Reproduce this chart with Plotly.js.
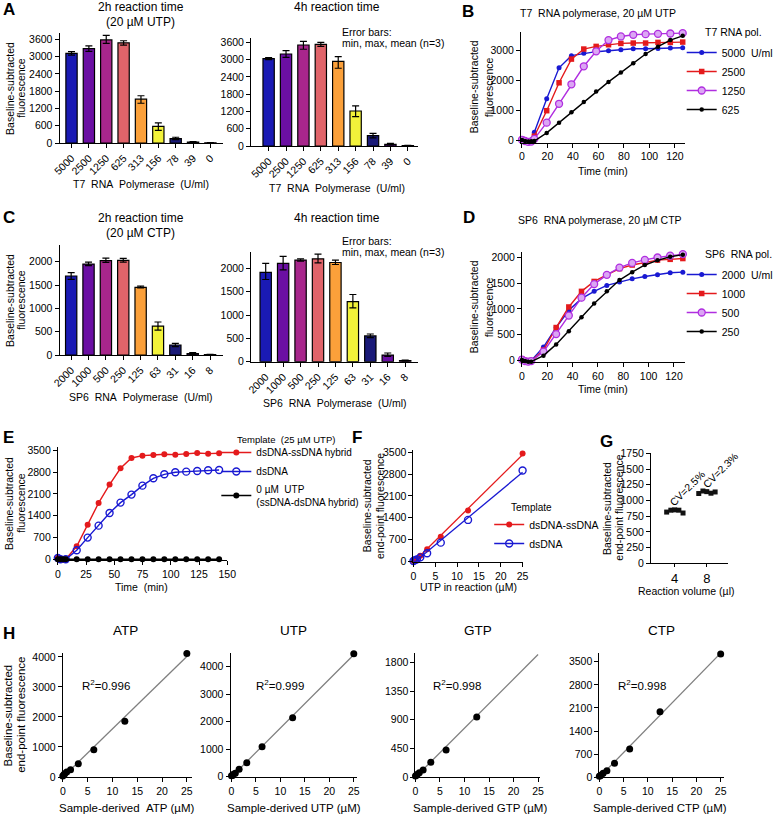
<!DOCTYPE html>
<html><head><meta charset="utf-8">
<script src="https://cdn.plot.ly/plotly-3.0.1.min.js"></script>
<style>html,body{margin:0;padding:0;background:#fff}#plot{width:778px;height:816px}</style>
</head><body><div id="plot"></div>
<script>
// ---------------- DATA ----------------
// Panel A (T7, 20 µM UTP)
const t7Units = ['5000','2500','1250','625','313','156','78','39','0'];
const t7_2h_mean = [3110, 3275, 3580, 3480, 1520, 580, 150, 35, 5];
const t7_2h_min  = [3050, 3180, 3460, 3400, 1380, 440, 115, 20, 0];
const t7_2h_max  = [3170, 3370, 3740, 3550, 1640, 700, 200, 50, 10];
const t7_4h_mean = [3032, 3194, 3507, 3530, 2940, 1215, 360, 58, 10];
const t7_4h_min  = [3000, 3080, 3360, 3460, 2700, 1020, 280, 35, 0];
const t7_4h_max  = [3070, 3310, 3630, 3600, 3100, 1390, 440, 90, 20];
// Panel C (SP6, 20 µM CTP)
const sp6Units = ['2000','1000','500','250','125','63','31','16','8'];
const sp6_2h_mean = [1693, 1950, 2025, 2030, 1450, 621, 214, 30, 8];
const sp6_2h_min  = [1621, 1914, 1985, 1990, 1436, 535, 180, 15, 3];
const sp6_2h_max  = [1764, 1993, 2075, 2070, 1478, 707, 250, 50, 12];
const sp6_4h_mean = [1913, 2106, 2178, 2206, 2127, 1289, 552, 143, 21];
const sp6_4h_min  = [1762, 1970, 2156, 2120, 2084, 1153, 516, 115, 14];
const sp6_4h_max  = [2106, 2256, 2206, 2306, 2178, 1440, 594, 186, 36];
// Panel B (kinetics, T7)
const bTime = [0, 2.4, 4.9, 7.3, 9.7, 19.4, 29.1, 38.8, 48.5, 58.2, 67.9, 77.6, 87.3, 97.0, 106.7, 116.4, 126.1];
const bT7_5000 = [50, 20, -10, 30, 280, 1400, 2430, 2835, 2912, 2967, 3000, 3033, 3066, 3066, 3077, 3088, 3099];
const bT7_2500 = [40, 0, -30, -20, 150, 1000, 1930, 2720, 3055, 3143, 3198, 3243, 3254, 3254, 3276, 3276, 3287];
const bT7_1250 = [30, -10, -40, -30, 60, 600, 1230, 1880, 2480, 2980, 3353, 3474, 3530, 3551, 3562, 3573, 3584];
const bT7_625  = [20, -10, -30, -20, -10, 260, 600, 950, 1290, 1640, 1960, 2270, 2580, 2890, 3132, 3353, 3496];
const bLegend = ['5000\u00a0\u00a0U/ml', '2500', '1250', '625'];
// Panel D (kinetics, SP6)
const dTime = [0, 2.4, 4.9, 7.3, 17, 27, 37, 47, 57, 67, 77, 87, 97, 107, 117, 127];
const dSP6_2000 = [40, 10, -10, 0, 263, 641, 974, 1199, 1340, 1455, 1519, 1583, 1628, 1660, 1699, 1712];
const dSP6_1000 = [30, 0, -20, -10, 205, 640, 1038, 1340, 1532, 1660, 1780, 1850, 1900, 1945, 1960, 1975];
const dSP6_500  = [20, -10, -20, -10, 173, 513, 872, 1218, 1481, 1660, 1800, 1890, 1950, 1995, 2030, 2060];
const dSP6_250  = [10, -10, -20, -20, 96, 314, 570, 840, 1103, 1340, 1558, 1712, 1850, 1940, 2010, 2050];
const dLegend = ['2000\u00a0\u00a0U/ml', '1000', '500', '250'];
// Panel E (templates)
const eTime = [0, 2.3, 4.6, 7.0, 16.7, 26.4, 36.1, 45.8, 55.5, 65.2, 74.9, 84.6, 94.3, 104, 113.7, 123.4, 133.1, 142.8];
const eHybrid = [50, 10, -20, 0, 417, 1113, 1809, 2398, 2922, 3254, 3329, 3350, 3372, 3361, 3382, 3414, 3393, 3404];
const eDsDNA  = [40, 0, -30, 0, 289, 696, 1081, 1488, 1820, 2077, 2365, 2601, 2729, 2793, 2815, 2836, 2858, 2868];
const eNoUTP  = [0, 0, 0, 0, 0, 0, 0, 0, 0, 0, 0, 0, 0, 0, 0, 0, 0, 0];
// Panel F (end-point vs UTP)
const fUTP = [0, 0.39, 0.78, 1.56, 3.125, 6.25, 12.5, 25];
const fHybrid = [0, 43, 75, 172, 377, 786, 1626, 3470];
const fDsDNA  = [0, 30, 54, 118, 248, 592, 1325, 2920];
// Panel G (reaction volume)
const gVolumes = ['4', '8'];
const gVol4 = [815, 845, 850, 845, 800];
const gVol8 = [1110, 1150, 1140, 1115, 1135];
const gCV = ['CV=2.5%', 'CV=2.3%'];
// Panel H (standard curves)
const hConc = [0, 0.195, 0.39, 0.78, 1.56, 3.125, 6.25, 12.5, 25];
const hATP = [33, 78, 111, 167, 244, 444, 911, 1856, 4111];
const hUTP = [36, 48, 85, 121, 267, 509, 1091, 2145, 4474];
const hGTP = [21, 31, 47, 73, 115, 235, 429, 942, 1946];
const hCTP = [30, 50, 71, 121, 202, 424, 857, 1987, 3732];
const hR2 = ['0.996', '0.999', '0.998', '0.998'];
const hNames = ['ATP', 'UTP', 'GTP', 'CTP'];

// ---------------- STYLE ----------------
const W = 778, H = 816;
const FONT = 'Liberation Sans, Arial, sans-serif';
const BAR_COLORS = ['#1a1ab4','#6b0fa3','#a8268c','#e0646a','#fba03a','#f2f23a','#1a1a78','#6b0fa3','#a8268c'];
const BLUE = '#1919d2', RED = '#e41a1c', MAG = '#b02ee0', BLK = '#000';
const JITTER = [-0.25, -0.12, 0, 0.13, 0.26];

const traces = [];
function barTrace(cats, mean, mn, mx, n) {
  traces.push({type:'bar', x:cats, y:mean, xaxis:'x'+n, yaxis:'y'+n, width:0.65,
    marker:{color:BAR_COLORS, line:{color:'#000', width:1.2}},
    error_y:{type:'data', symmetric:false, array:mx.map((v,i)=>v-mean[i]), arrayminus:mean.map((v,i)=>v-mn[i]),
      color:'#000', thickness:1.2, width:3.5},
    showlegend:false, hoverinfo:'skip'});
}
barTrace(t7Units, t7_2h_mean, t7_2h_min, t7_2h_max, '');
barTrace(t7Units, t7_4h_mean, t7_4h_min, t7_4h_max, 2);
barTrace(sp6Units, sp6_2h_mean, sp6_2h_min, sp6_2h_max, 4);
barTrace(sp6Units, sp6_4h_mean, sp6_4h_min, sp6_4h_max, 5);

function lineTrace(x, y, n, color, marker, name, legend) {
  traces.push({type:'scatter', mode:'lines+markers', x:x, y:y, xaxis:'x'+n, yaxis:'y'+n,
    line:{color:color, width:1.4}, marker:marker, name:name, legend:legend,
    showlegend:!!name, cliponaxis:false, hoverinfo:'skip'});
}
const mkBlue = {symbol:'circle', size:5, color:BLUE};
const mkRedSq = {symbol:'square', size:5.5, color:RED};
const mkMag = {symbol:'circle', size:7, color:'#dba6f4', line:{color:MAG, width:1.3}};
const mkBlk = {symbol:'circle', size:4.5, color:BLK};
lineTrace(bTime, bT7_5000, 3, BLUE, mkBlue, bLegend[0], 'legend');
lineTrace(bTime, bT7_2500, 3, RED, mkRedSq, bLegend[1], 'legend');
lineTrace(bTime, bT7_1250, 3, MAG, mkMag, bLegend[2], 'legend');
lineTrace(bTime, bT7_625, 3, BLK, mkBlk, bLegend[3], 'legend');
lineTrace(dTime, dSP6_2000, 6, BLUE, mkBlue, dLegend[0], 'legend2');
lineTrace(dTime, dSP6_1000, 6, RED, mkRedSq, dLegend[1], 'legend2');
lineTrace(dTime, dSP6_500, 6, MAG, mkMag, dLegend[2], 'legend2');
lineTrace(dTime, dSP6_250, 6, BLK, mkBlk, dLegend[3], 'legend2');
lineTrace(eTime, eHybrid, 7, RED, {symbol:'circle', size:6, color:RED}, 'dsDNA-ssDNA hybrid', 'legend3');
lineTrace(eTime, eDsDNA, 7, BLUE, {symbol:'circle-open', size:7, color:BLUE, line:{width:1.4}}, 'dsDNA', 'legend3');
lineTrace(eTime, eNoUTP, 7, BLK, {symbol:'circle', size:6, color:BLK}, '0 µM\u00a0\u00a0UTP<br>(ssDNA-dsDNA hybrid)', 'legend3');

function fit(x, y) {
  const n = x.length, mx = x.reduce((a,b)=>a+b,0)/n, my = y.reduce((a,b)=>a+b,0)/n;
  let sxy = 0, sxx = 0;
  for (let i=0;i<n;i++){ sxy += (x[i]-mx)*(y[i]-my); sxx += (x[i]-mx)*(x[i]-mx); }
  const a = sxy/sxx, b = my - a*mx;
  const xs = [Math.min(...x), Math.max(...x)];
  return {x: xs, y: xs.map(v=>a*v+b)};
}
function fitScatter(x, y, n, lineColor, marker, name, legend) {
  const f = fit(x, y);
  traces.push({type:'scatter', mode:'lines', x:f.x, y:f.y, xaxis:'x'+n, yaxis:'y'+n,
    line:{color:lineColor, width:1.3}, showlegend:false, hoverinfo:'skip', cliponaxis:false});
  traces.push({type:'scatter', mode:'markers', x:x, y:y, xaxis:'x'+n, yaxis:'y'+n,
    marker:marker, name:name, legend:legend, showlegend:!!name, cliponaxis:false, hoverinfo:'skip'});
}
fitScatter(fUTP, fHybrid, 8, RED, {symbol:'circle', size:6, color:RED}, null);
fitScatter(fUTP, fDsDNA, 8, BLUE, {symbol:'circle-open', size:7, color:BLUE, line:{width:1.4}}, null);
// legend-only entries for F (line + marker as in the reference)
traces.push({type:'scatter', mode:'lines+markers', x:[null], y:[null], xaxis:'x8', yaxis:'y8',
  line:{color:RED, width:1.4}, marker:{symbol:'circle', size:6, color:RED}, name:'dsDNA-ssDNA', legend:'legend4', hoverinfo:'skip'});
traces.push({type:'scatter', mode:'lines+markers', x:[null], y:[null], xaxis:'x8', yaxis:'y8',
  line:{color:BLUE, width:1.4}, marker:{symbol:'circle-open', size:7, color:BLUE, line:{width:1.4}}, name:'dsDNA', legend:'legend4', hoverinfo:'skip'});

// G
traces.push({type:'scatter', mode:'markers', x:JITTER.map(j=>0+j), y:gVol4, xaxis:'x9', yaxis:'y9',
  marker:{symbol:'square', size:5, color:'#111'}, showlegend:false, cliponaxis:false, hoverinfo:'skip'});
traces.push({type:'scatter', mode:'markers', x:JITTER.map(j=>1+j), y:gVol8, xaxis:'x9', yaxis:'y9',
  marker:{symbol:'square', size:5, color:'#111'}, showlegend:false, cliponaxis:false, hoverinfo:'skip'});

// H
[hATP, hUTP, hGTP, hCTP].forEach((ys, k) => {
  fitScatter(hConc, ys, 10+k, '#7f7f7f', {symbol:'circle', size:7, color:'#000'}, null);
});

// ---------------- LAYOUT ----------------
const base = {showline:true, linecolor:'#000', linewidth:1, ticks:'outside', ticklen:4, tickwidth:1, tickcolor:'#000',
  showgrid:false, zeroline:false, fixedrange:true, tickfont:{family:FONT, size:10.5, color:'#000'}};
const layout = {width:W, height:H, margin:{l:0,r:0,t:0,b:0}, paper_bgcolor:'#fff', plot_bgcolor:'rgba(0,0,0,0)',
  bargap:0, showlegend:true, font:{family:FONT, color:'#000'}, annotations:[]};
function setAxes(n, x0, x1, yTop, yBot, xo, yo) {
  const sx = n===1 ? '' : n;
  layout['xaxis'+sx] = Object.assign({}, base, {domain:[x0/W, x1/W], anchor:'y'+sx}, xo);
  layout['yaxis'+sx] = Object.assign({}, base, {domain:[1-yBot/H, 1-yTop/H], anchor:'x'+sx}, yo);
}
const catX = {type:'category', tickangle:-45};
setAxes(1, 60, 225, 33.3, 143, Object.assign({range:[-0.69, 8.74]}, catX), {range:[0, 3809], dtick:600});
setAxes(2, 253, 421.7, 38, 146, Object.assign({range:[-1.01, 8.61]}, catX), {range:[0, 3750], dtick:600});
setAxes(3, 525, 690.7, 31.7, 142.7, {range:[-0.8, 128.2], dtick:20}, {range:[-67, 3633], dtick:1000});
setAxes(4, 60, 225, 245, 355, Object.assign({range:[-0.67, 8.76]}, catX), {range:[0, 2358], dtick:500});
setAxes(5, 253, 421.7, 251.7, 361.7, Object.assign({range:[-0.84, 8.76]}, catX), {range:[0, 2358], dtick:500});
setAxes(6, 526, 690.7, 252.3, 362, {range:[0, 129], dtick:20}, {range:[-27, 2096], dtick:500});
setAxes(7, 58.3, 229, 446.7, 560, {range:[0, 150], dtick:25}, {range:[-23, 3616], dtick:700});
setAxes(8, 416.7, 527, 450, 562, {range:[0, 25.08], dtick:5}, {range:[-32, 3580], dtick:700});
setAxes(9, 656, 733.3, 453.3, 563.3, {range:[-0.74, 1.65], tickvals:[0,1], ticktext:gVolumes, ticklen:3,
  tickfont:{family:FONT, size:13, color:'#000'}}, {range:[0, 1750], dtick:250});
setAxes(10, 63.3, 193.3, 653.3, 777, {range:[0, 26], dtick:5}, {range:[0, 4120], dtick:1000});
setAxes(11, 232.3, 360, 653.3, 777, {range:[-0.2, 25.7], dtick:5}, {range:[-11, 4487], dtick:1000});
setAxes(12, 418.7, 544.7, 653.3, 777.3, {range:[0, 25.5], dtick:5}, {range:[0, 1941], dtick:450});
setAxes(13, 604, 729.7, 653.3, 777.3, {range:[0, 25.7], dtick:5}, {range:[0, 3755], dtick:700});

const legBase = {xanchor:'left', yanchor:'top', bgcolor:'rgba(0,0,0,0)', borderwidth:0,
  font:{family:FONT, size:10.5, color:'#000'}, tracegroupgap:0, itemclick:false, itemdoubleclick:false};
layout.legend  = Object.assign({}, legBase, {x:687/W, y:1-38/H});
layout.legend2 = Object.assign({}, legBase, {x:687/W, y:1-260/H});
layout.legend3 = Object.assign({}, legBase, {x:218/W, y:1-438/H, font:{family:FONT, size:10, color:'#000'}});
layout.legend4 = Object.assign({}, legBase, {x:493/W, y:1-510/H});

function ann(text, x, y, o) {
  layout.annotations.push(Object.assign({text:text, x:x/W, y:1-y/H, xref:'paper', yref:'paper', showarrow:false,
    xanchor:'center', yanchor:'middle', font:{family:FONT, size:10.5, color:'#000'}}, o||{}));
}
const big = {font:{family:FONT, size:12, color:'#000'}};
const lab = {font:{family:FONT, size:17, color:'#000', weight:'bold'}, xanchor:'left'};
const rot = {textangle:-90};
const sp = '\u00a0\u00a0';
// panel letters
ann('<b>A</b>', 1, 10, lab); ann('<b>B</b>', 464, 12, lab); ann('<b>C</b>', 1, 218, lab);
ann('<b>D</b>', 465, 218, lab); ann('<b>E</b>', 1, 437, lab); ann('<b>F</b>', 353, 437, lab);
ann('<b>G</b>', 603, 442, lab); ann('<b>H</b>', 1, 633, lab);
// A
ann('2h reaction time', 142, 7, big); ann('(20 µM UTP)', 142, 22, big);
ann('4h reaction time', 340, 7, big);
ann('Error bars:', 343, 31.7, {xanchor:'left'}); ann('min, max, mean (n=3)', 343, 42.5, {xanchor:'left'});
ann('T7'+sp+'RNA'+sp+'Polymerase'+sp+'(U/ml)', 142, 184); ann('T7'+sp+'RNA'+sp+'Polymerase'+sp+'(U/ml)', 340, 188);
ann('Baseline-subtracted', 10, 88, rot); ann('fluorescence', 21, 88, rot);
// B
ann('T7'+sp+'RNA polymerase, 20 µM UTP', 603, 13);
ann('T7 RNA pol.', 708, 32, {xanchor:'left'});
ann('Time (min)', 608, 171);
ann('Baseline-subtracted', 478, 87, rot); ann('fluorescence', 493, 87, rot);
// C
ann('2h reaction time', 142, 218.3, big); ann('(20 µM CTP)', 142, 233.3, big);
ann('4h reaction time', 340, 218, big);
ann('Error bars:', 343, 241, {xanchor:'left'}); ann('min, max, mean (n=3)', 343, 251.5, {xanchor:'left'});
ann('SP6'+sp+'RNA'+sp+'Polymerase'+sp+'(U/ml)', 142, 396.7); ann('SP6'+sp+'RNA'+sp+'Polymerase'+sp+'(U/ml)', 338, 403.3);
ann('Baseline-subtracted', 10, 300, rot); ann('fluorescence', 21, 300, rot);
// D
ann('SP6'+sp+'RNA polymerase, 20 µM CTP', 605, 220);
ann('SP6'+sp+'RNA pol.', 708, 254, {xanchor:'left'});
ann('Time (min)', 608, 389.3);
ann('Baseline-subtracted', 478, 307, rot); ann('fluorescence', 493, 307, rot);
// E
ann('Template'+sp+'(25 µM UTP)', 236.7, 439, {xanchor:'left', font:{family:FONT, size:9.5, color:'#000'}});
ann('Time'+sp+'(min)', 143, 587);
ann('Baseline-subtracted', 9, 503, rot); ann('fluorescence', 21, 503, rot);
// F
ann('Template', 513, 507.7, {xanchor:'left', font:{family:FONT, size:10, color:'#000'}});
ann('UTP in reaction (µM)', 472, 587);
ann('Baseline-subtracted', 370, 506, rot); ann('end-point fluorescence', 383, 506, rot);
// G
ann(gCV[0], 692.7, 488.3, {textangle:-45}); ann(gCV[1], 726, 470, {textangle:-45});
ann('Reaction volume (µl)', 692, 591);
ann('Baseline-subtracted', 611.7, 508, rot); ann('end-point fluorescence', 623.5, 508, rot);
// H
const hTitleX = [126, 296, 482, 667], hR2X = [107, 282, 461, 647], hAxX = [127, 296, 484, 665.5];
hNames.forEach((nm, k) => {
  ann(nm, hTitleX[k], 630, {font:{family:FONT, size:13.5, color:'#000'}});
  ann('R<sup>2</sup>=' + hR2[k], hR2X[k], 685, {font:{family:FONT, size:11.5, color:'#000'}});
  ann('Sample-derived' + (k===0 ? sp : '\u00a0') + nm + ' (µM)', hAxX[k], 808, {font:{family:FONT, size:11.5, color:'#000'}});
});
ann('Baseline-subtracted', 8.5, 715, Object.assign({font:{family:FONT, size:11.5, color:'#000'}}, rot));
ann('end-point fluorescence', 21, 715, Object.assign({font:{family:FONT, size:11.5, color:'#000'}}, rot));

Plotly.newPlot('plot', traces, layout, {staticPlot:true, displayModeBar:false});
</script></body></html>
